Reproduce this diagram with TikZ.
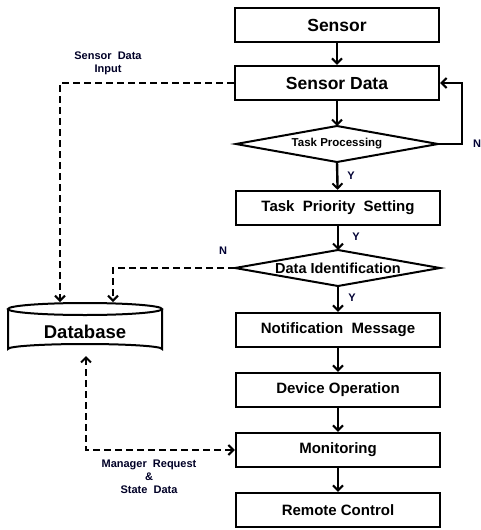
\documentclass[tikz,border=0pt]{standalone}
\usepackage{fontspec}
\setmainfont{Liberation Sans}
\usetikzlibrary{arrows.meta,shapes.geometric}
\begin{document}
\begin{tikzpicture}[x=1pt,y=-1pt,
  box/.style={draw,line width=2.4pt,minimum width=204pt,minimum height=34pt,inner sep=0pt,font=\bfseries\fontsize{15}{17}\selectfont},
  bigbox/.style={box,font=\bfseries\fontsize{17.5}{19}\selectfont},
  arr/.style={line width=2.4pt,-{Straight Barb[length=5pt,width=10pt,line width=2pt]}},
  darr/.style={arr,dashed,dash pattern=on 7pt off 4pt},
  lab/.style={font=\bfseries\fontsize{11}{13}\selectfont,text=black!85!blue,align=center,inner sep=0pt},
  yn/.style={font=\bfseries\fontsize{11}{12}\selectfont,text=black!80!blue,inner sep=0pt}]
\useasboundingbox (0,0) rectangle (480,530);
\node[bigbox] (sensor) at (337,25) {Sensor};
\node[bigbox] (sdata) at (337,83) {Sensor Data};
\draw[line width=2pt] (236,144) -- (337,126) -- (438,144) -- (337,162) -- cycle;
\node[font=\bfseries\fontsize{11.5}{13}\selectfont,inner sep=0pt] (tp) at (337,144) {Task Processing};
\coordinate (tpN) at (337,126);
\coordinate (tpS) at (337,162);
\coordinate (tpE) at (438,144);
\node[box] (tps) at (338,208) {Task~ Priority~ Setting};
\draw[line width=2pt] (235,268) -- (338,250) -- (440,268) -- (338,286) -- cycle;
\node[font=\bfseries\fontsize{14.5}{16}\selectfont,inner sep=0pt] (di) at (338,268) {Data Identification};
\coordinate (diN) at (338,250);
\coordinate (diS) at (338,286);
\coordinate (diW) at (235,268);
\node[box] (nm) at (338,330) {Notification~ Message};
\node[box] (do) at (338,390) {Device Operation};
\node[box] (mon) at (338,450) {Monitoring};
\node[box] (rc) at (338,510) {Remote Control};
% database cylinder
\draw[line width=2pt,fill=white] (8,309) -- (8,349) arc[start angle=180,end angle=360,x radius=77,y radius=5] -- (162,309);
\draw[line width=2pt] (85,309) ellipse[x radius=77,y radius=6];
\node[font=\bfseries\fontsize{18.5}{20}\selectfont,inner sep=0pt] (db) at (85,332) {Database};
\coordinate (dbtop1) at (60,302);
\coordinate (dbtop2) at (113,302);
\coordinate (dbbot) at (86,356);
% main arrows
\draw[arr] (sensor) -- (sdata);
\draw[arr] (sdata) -- (tpN);
\draw[arr] (tpS) -- (tps);
\draw[arr] (tps) -- (diN);
\draw[arr] (diS) -- (nm);
\draw[arr] (nm) -- (do);
\draw[arr] (do) -- (mon);
\draw[arr] (mon) -- (rc);
\draw[arr] (tpE) -- (462,144) -- (462,83) -- (sdata.east);
% dashed
\draw[darr] (sdata.west) -| (dbtop1);
\draw[darr] (diW) -| (dbtop2);
\draw[darr,{Straight Barb[length=5pt,width=10pt,line width=2pt]}-{Straight Barb[length=5pt,width=10pt,line width=2pt]}] (dbbot) |- (mon.west);
% labels
\node[yn] (y1) at (351,176) {Y};
\node[yn] (y2) at (356,237) {Y};
\node[yn] (y3) at (352,298) {Y};
\node[yn] (n1) at (477,144) {N};
\node[yn] (n2) at (223,251) {N};
\node[lab] (l1) at (108,63) {Sensor~~Data\\Input};
\node[lab] (l2) at (149,477) {Manager~~Request\\\&\\State~~Data};
\end{tikzpicture}
\end{document}
